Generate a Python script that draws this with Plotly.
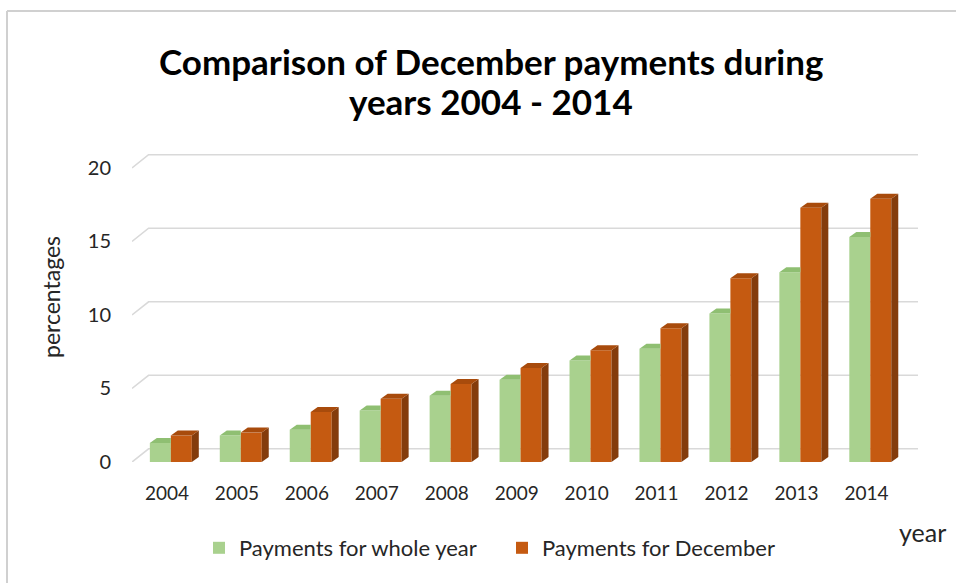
import plotly.graph_objects as go

# ---- data ----
years = ["2004", "2005", "2006", "2007", "2008", "2009", "2010", "2011", "2012", "2013", "2014"]
whole_year = [1.3, 1.8, 2.2, 3.5, 4.5, 5.6, 6.9, 7.7, 10.1, 12.9, 15.3]
december = [1.8, 2.0, 3.4, 4.3, 5.3, 6.4, 7.6, 9.1, 12.5, 17.3, 17.9]
y_ticks = [0, 5, 10, 15, 20]
title_lines = ["Comparison of December payments during", "years 2004 - 2014"]

# ---- figure geometry (pixels) ----
W, H = 956, 583
M_L, M_R, M_T, M_B = 132, 38, 154, 121
plot_w = W - M_L - M_R
plot_h = H - M_T - M_B

# pseudo-3D depth of the back wall and of the bars (axis units)
WALL_DX, WALL_DY = 0.237, 0.9
BAR_DX, BAR_DY = 0.1, 0.34
BAR_W = 0.3
SHIFT = 0.055
X_MIN, X_MAX = -0.5, len(years) - 0.5 + WALL_DX
Y_MAX = 20 + WALL_DY + 0.05

GREEN = "#A9D18E"
GREEN_TOP = "#8FBF72"
ORANGE = "#C55A11"
ORANGE_TOP = "#A84B0C"
ORANGE_SIDE = "#843C0C"
GRID = "#D9D9D9"
TEXT = "#262626"
FONT = "Lato, 'Open Sans', sans-serif"

xs = list(range(len(years)))
x_green = [i + SHIFT - BAR_W / 2 for i in xs]
x_orange = [i + SHIFT + BAR_W / 2 for i in xs]

fig = go.Figure()

# front faces of the columns
fig.add_trace(go.Bar(x=x_green, y=whole_year, width=BAR_W, name="Payments for whole year",
                     marker=dict(color=GREEN, line=dict(width=0)), hoverinfo="y"))
fig.add_trace(go.Bar(x=x_orange, y=december, width=BAR_W, name="Payments for December",
                     marker=dict(color=ORANGE, line=dict(width=0)), hoverinfo="y"))


def poly(xp, yp, color):
    fig.add_trace(go.Scatter(x=xp + [xp[0]], y=yp + [yp[0]], mode="lines", fill="toself",
                             fillcolor=color, line=dict(width=0, color=color),
                             showlegend=False, hoverinfo="skip"))


# top faces of green columns (right part hidden behind the orange column)
for c, v in zip(x_green, whole_year):
    l, r = c - BAR_W / 2, c + BAR_W / 2
    poly([l, l + BAR_DX, r, r], [v, v + BAR_DY, v + BAR_DY, v], GREEN_TOP)

# top and side faces of orange columns
for c, v in zip(x_orange, december):
    l, r = c - BAR_W / 2, c + BAR_W / 2
    poly([r, r, r + BAR_DX, r + BAR_DX], [0, v, v + BAR_DY, BAR_DY], ORANGE_SIDE)
    poly([l, l + BAR_DX, r + BAR_DX, r], [v, v + BAR_DY, v + BAR_DY, v], ORANGE_TOP)

# back-wall gridlines with the slanted floor edge on the left
shapes = []
for t in y_ticks:
    shapes.append(dict(type="path", xref="x", yref="y", layer="below",
                       path=f"M {X_MIN},{t} L {X_MIN + WALL_DX},{t + WALL_DY} L {X_MAX},{t + WALL_DY}",
                       line=dict(color=GRID, width=1.6)))


def px_x(p):
    return (p - M_L) / plot_w


def px_y(p):
    return (H - M_B - p) / plot_h


# chart frame (top and left edges)
shapes.append(dict(type="line", xref="paper", yref="paper", x0=px_x(7), x1=px_x(W + 5),
                   y0=px_y(11), y1=px_y(11), line=dict(color="#D0D0D0", width=2)))
shapes.append(dict(type="line", xref="paper", yref="paper", x0=px_x(7), x1=px_x(7),
                   y0=px_y(11), y1=px_y(H + 5), line=dict(color="#D0D0D0", width=2)))


def label(text, x, y, size, color=TEXT, angle=0):
    return dict(text=text, xref="paper", yref="paper", x=px_x(x), y=px_y(y),
                xanchor="center", yanchor="middle", textangle=angle,
                showarrow=False, font=dict(size=size, color=color))


annotations = [
    label(f"<b>{title_lines[0]}</b>", 491, 61, 35, "black"),
    label(f"<b>{title_lines[1]}</b>", 491, 101, 35, "black"),
    label("percentages", 51, 297, 23, angle=-90),
    label("year", 923, 532, 25),
]

fig.update_layout(
    width=W, height=H,
    margin=dict(l=M_L, r=M_R, t=M_T, b=M_B, autoexpand=False),
    paper_bgcolor="white", plot_bgcolor="white",
    barmode="overlay",
    shapes=shapes,
    annotations=annotations,
    font=dict(family=FONT, color=TEXT),
    xaxis=dict(range=[X_MIN, X_MAX], tickvals=xs, ticktext=years, showgrid=False,
               zeroline=False, showline=False, ticks="", ticklabelstandoff=18,
               tickfont=dict(size=19, color=TEXT)),
    yaxis=dict(range=[0, Y_MAX], tickvals=y_ticks, showgrid=False, zeroline=False,
               showline=False, ticks="", ticklabelstandoff=20,
               tickfont=dict(size=20, color=TEXT)),
    legend=dict(orientation="h", x=px_x(502), xanchor="center", y=px_y(548), yanchor="middle",
                font=dict(size=22, color=TEXT), itemwidth=30, traceorder="normal",
                entrywidth=258, entrywidthmode="pixels",
                bgcolor="rgba(0,0,0,0)"),
)

fig.write_html("out.html")
